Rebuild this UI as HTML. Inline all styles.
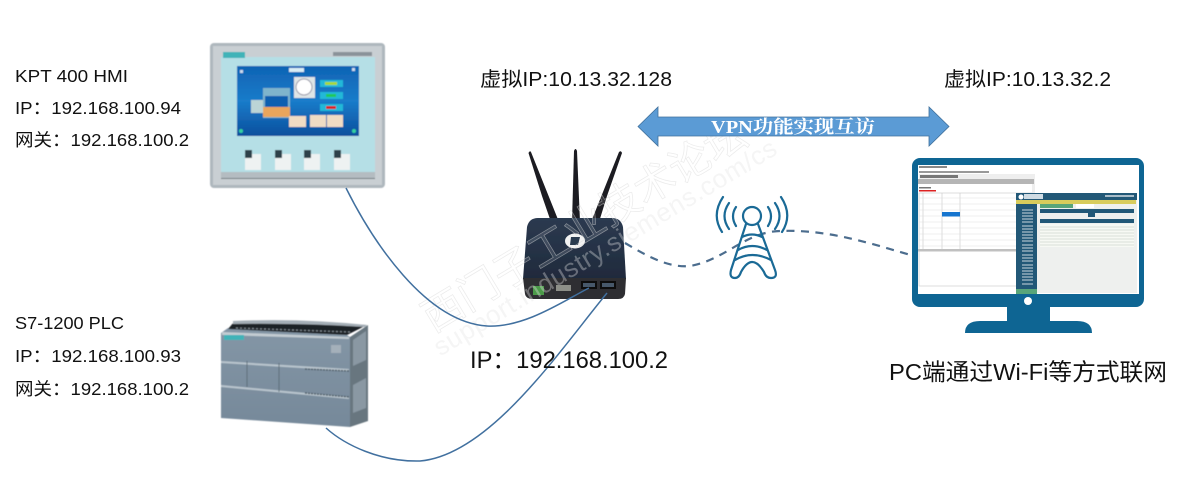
<!DOCTYPE html>
<html><head><meta charset="utf-8">
<style>
html,body{margin:0;padding:0;background:#fff;width:1188px;height:477px;overflow:hidden}
svg{display:block}
text{font-family:"Liberation Sans","Noto Sans CJK SC",sans-serif;fill:#111}
</style></head><body>
<svg width="1188" height="477" viewBox="0 0 1188 477" xmlns="http://www.w3.org/2000/svg">
<defs>
<filter id="b" x="-5%" y="-5%" width="110%" height="110%"><feGaussianBlur stdDeviation="0.6"/></filter>
<filter id="b2" x="-5%" y="-5%" width="110%" height="110%"><feGaussianBlur stdDeviation="0.35"/></filter>
<linearGradient id="sc" x1="0" y1="0" x2="0" y2="1"><stop offset="0" stop-color="#0f63b4"/><stop offset="0.5" stop-color="#1a7cca"/><stop offset="1" stop-color="#0b4f9d"/></linearGradient>
<linearGradient id="pl" x1="0" y1="0" x2="0" y2="1"><stop offset="0" stop-color="#8496a6"/><stop offset="1" stop-color="#76899a"/></linearGradient>
<linearGradient id="rt" x1="0" y1="0" x2="0" y2="1"><stop offset="0" stop-color="#2c3a50"/><stop offset="1" stop-color="#1f2a3c"/></linearGradient>
</defs>

<!-- HMI -->
<g filter="url(#b)">
<rect x="210" y="43" width="175" height="145" rx="4" fill="#aeb7bd"/>
<rect x="213" y="46" width="169" height="139" fill="#c9cfd3"/>
<rect x="221" y="57" width="154" height="115" fill="#b5dfe6"/>
<rect x="221" y="172" width="154" height="6" fill="#b4bcc1"/>
<rect x="221" y="178" width="154" height="1" fill="#6f7a80"/>
<rect x="223" y="52" width="22" height="6" fill="#3fb3b8"/>
<rect x="333" y="52" width="39" height="4" fill="#8a9299"/>
<rect x="237" y="66" width="122" height="70" fill="url(#sc)"/>
<rect x="289" y="68" width="15" height="4" fill="#d9edf5"/>
<rect x="294" y="77" width="21" height="21" fill="#dfe5e6"/>
<circle cx="304" cy="87" r="8" fill="#fff" stroke="#99a"/>
<rect x="263" y="88" width="27" height="30" fill="#7fb4cc"/>
<rect x="265" y="96" width="23" height="16" fill="#0e5fb0"/>
<rect x="263" y="107" width="27" height="10" fill="#e9a55c"/>
<rect x="251" y="100" width="12" height="13" fill="#bcd4d6"/>
<rect x="320" y="80" width="23" height="7" fill="#21b8d8"/><rect x="325" y="82" width="12" height="3" fill="#a8d838"/>
<rect x="320" y="92" width="23" height="7" fill="#21b8d8"/><rect x="326" y="94" width="10" height="3" fill="#22c858"/>
<rect x="320" y="104" width="23" height="7" fill="#21b8d8"/><rect x="326" y="106" width="10" height="3" fill="#d22"/>
<rect x="289" y="116" width="17" height="11" fill="#f0dcc4"/>
<rect x="310" y="115" width="16" height="12" fill="#f0dcc4"/>
<rect x="327" y="115" width="16" height="12" fill="#f0dcc4"/>
<circle cx="241" cy="131" r="2" fill="#35d0a0"/><circle cx="354" cy="131" r="2" fill="#35d0a0"/>
<rect x="240" y="70" width="3" height="3" fill="#cde"/><rect x="352" y="68" width="3" height="3" fill="#cde"/>
<g fill="#eef2f2">
<rect x="245" y="154" width="16" height="16"/><rect x="275" y="154" width="16" height="16"/><rect x="304" y="154" width="16" height="16"/><rect x="334" y="154" width="16" height="16"/>
</g>
<g fill="#2f3f48">
<rect x="245" y="150" width="7" height="8"/><rect x="275" y="150" width="7" height="8"/><rect x="304" y="150" width="7" height="8"/><rect x="334" y="150" width="7" height="8"/>
</g>
</g>

<!-- PLC -->
<g filter="url(#b)">
<path d="M221 333 L228 328 L347 335 L350 337 L350 427 L221 418 Z" fill="url(#pl)"/>
<path d="M350 337 L368 325 L368 421 L350 427 Z" fill="#67767f"/>
<path d="M353 340 L366 331 L366 360 L353 366 Z M353 385 L366 378 L366 408 L353 413 Z" fill="#8a98a3"/>
<path d="M228 329 L234 322 L367 325 L347 335 Z" fill="#1d2227"/>
<path d="M233 321 Q300 318 367 325 L365 327 Q300 323 233 324 Z" fill="#a4aeb6"/>
<path d="M236 328 L350 332" stroke="#8d979e" stroke-width="1" stroke-dasharray="2 2"/>
<path d="M222 332 L349 337 L349 339 L222 335 Z" fill="#c3ccd2"/>
<rect x="224" y="335" width="20" height="5" fill="#3fb3b8"/>
<path d="M221 361 L349 369 L349 371 L221 363 Z" fill="#b9c5cd"/>
<path d="M221 385 L349 397 L349 399 L221 387 Z" fill="#b9c5cd"/>
<path d="M247 361 L247 387 M279 363 L279 392" stroke="#55656f" stroke-width="0.8"/>
<path d="M305 369 L349 371 M305 393 L349 397" stroke="#4d5c66" stroke-width="1.5" stroke-dasharray="2 1"/>
<rect x="331" y="345" width="10" height="8" fill="#a4b0ba"/>
</g>

<!-- Router -->
<g filter="url(#b2)">
<path d="M528.500 153 Q530 150 531 152 L559 222 L551 222 L542 196 Z" fill="#1c1c20"/>
<path d="M574 151 Q575.500 147 577 151 L580 222 L572 222 Z" fill="#1c1c20"/>
<path d="M619 152 Q621 150 622 153 L607 196 L599 222 L591 222 Z" fill="#1c1c20"/>
<path d="M538 218 L612 218 Q621 218 623 227 L626 279 L523 279 L527 227 Q529 218 538 218 Z" fill="url(#rt)"/>
<path d="M523 278 L626 278 L625 294 Q624 299 618 299 L533 299 Q526 299 525 294 Z" fill="#2d2d30"/>
<ellipse cx="575" cy="241" rx="10" ry="7.500" fill="#f2f2f2"/>
<path d="M571 237 L580 237 L578 245 L570 245 Z" fill="#2c3a50"/>
<rect x="581" y="281" width="16" height="8" fill="#111"/><rect x="583" y="283" width="12" height="4" fill="#46596b"/>
<rect x="600" y="281" width="16" height="8" fill="#111"/><rect x="602" y="283" width="12" height="4" fill="#46596b"/>
<rect x="533" y="286" width="11" height="9" fill="#4c9a4a"/>
<rect x="556" y="285" width="15" height="6" fill="#8d8f88"/>
</g>

<!-- Watermark -->
<g transform="translate(433 333) rotate(-31)">
<text x="0" y="0" font-size="41" textLength="370" style="fill:#fff;fill-opacity:.12;stroke:#d8d8d8;stroke-opacity:.5;stroke-width:.7">西门子工业技术论坛</text>
<text x="-6" y="24" font-size="26" textLength="395" style="fill:#e4e4e4;fill-opacity:.36">support.industry.siemens.com/cs</text>
</g>

<!-- Cables -->
<g fill="none" stroke="#41709f" stroke-width="1.5">
<path d="M346 188 C372 240 425 322 487 326 C525 328 565 300 589 288"/>
<path d="M326 428 C345 445 380 462 420 461 C490 455 560 350 607 293"/>
</g>

<!-- Dashed link -->
<path d="M625 243 C650 258 670 268 690 266 C725 260 745 232 780 231 C830 229 875 245 914 256" fill="none" stroke="#4c6d8e" stroke-width="2.200" stroke-dasharray="8 6.500"/>

<!-- Tower -->
<g fill="none" stroke="#1a6a96" stroke-width="2.200" stroke-linecap="round" stroke-linejoin="round">
<circle cx="752" cy="216" r="9"/>
<path d="M746 224 L731 270 Q729 278 735 278 Q739 278 741 272 Q752 252 764 272 Q766 278 771 278 Q778 278 775 270 L758 224"/>
<path d="M742 237 Q752 232 762 237 M738 250 Q752 242 767 250 M735 260 Q752 250 771 260"/>
<path d="M736 207 Q730 216 736 226 M768 207 Q774 216 768 226"/>
<path d="M729 203 Q720 216 729 229 M775 203 Q784 216 775 229"/>
<path d="M723 197 Q711 215 722 232 M781 197 Q793 215 782 232"/>
</g>

<!-- Monitor -->
<rect x="912" y="158" width="232" height="149" rx="8" fill="#0e6593"/>
<rect x="918" y="165" width="221" height="129" fill="#fff"/>
<circle cx="1028" cy="301" r="4" fill="#fff"/>
<rect x="1007" y="307" width="43" height="15" fill="#0e6593"/>
<path d="M965 333 Q965 321 980 321 L1077 321 Q1092 321 1092 333 Z" fill="#0e6593"/>
<g filter="url(#b2)">
<rect x="919" y="174" width="116" height="27" fill="#eeeeee"/>
<rect x="919" y="166" width="28" height="2" fill="#888"/>
<rect x="919" y="171" width="70" height="2" fill="#999"/>
<rect x="920" y="175" width="38" height="3" fill="#777"/>
<rect x="918" y="179" width="116" height="5" fill="#b5b5b5"/>
<rect x="919" y="184" width="113" height="15" fill="#fff"/>
<rect x="919" y="187" width="12" height="1.500" fill="#777"/>
<rect x="919" y="190" width="17" height="1.500" fill="#d22"/>
<rect x="919" y="193" width="113" height="93" fill="#fff" stroke="#c8c8c8" stroke-width="0.6"/>
<rect x="918" y="249" width="117" height="2.500" fill="#c0c0c0"/>
<path d="M923 193 V249 M942 193 V249 M960 193 V249" stroke="#c7c7c7" stroke-width="0.6"/>
<path d="M919 198 H1016 M919 204 H1016 M919 210 H1016 M919 216 H1016 M919 222 H1016 M919 228 H1016 M919 234 H1016 M919 240 H1016 M919 246 H1016" stroke="#e0e0e0" stroke-width="0.6"/>
<rect x="942" y="212" width="18" height="4.500" fill="#1375cf"/>
<rect x="1016" y="193" width="21" height="100" fill="#245877"/>
<rect x="1016" y="193" width="121" height="7" fill="#245877"/>
<rect x="1037" y="200" width="100" height="93" fill="#eef0ee"/>
<rect x="1016" y="200" width="120" height="4" fill="#d8cc5b"/>
<rect x="1040" y="204" width="33" height="4" fill="#58a57a"/>
<rect x="1076" y="204" width="18" height="4" fill="#fff"/>
<rect x="1040" y="209" width="94" height="4" fill="#245877"/>
<rect x="1040" y="219" width="94" height="4" fill="#245877"/>
<rect x="1088" y="213" width="7" height="4" fill="#245877"/>
<rect x="1040" y="224" width="94" height="23" fill="#f7f9f4"/>
<path d="M1040 227 H1134 M1040 230 H1134 M1040 233 H1134 M1040 236 H1134 M1040 239 H1134 M1040 242 H1134 M1040 245 H1134" stroke="#cfd8cf" stroke-width="0.8"/>
<path d="M1022 210 H1033 M1022 213 H1033 M1022 216 H1033 M1022 219 H1033 M1022 222 H1033 M1022 226 H1033 M1022 229 H1033 M1022 232 H1033 M1022 235 H1033 M1022 238 H1033 M1022 241 H1033 M1022 245 H1033 M1022 248 H1033 M1022 251 H1033 M1022 255 H1033 M1022 258 H1033 M1022 261 H1033 M1022 265 H1033 M1022 268 H1033 M1022 271 H1033 M1022 274 H1033 M1022 277 H1033 M1022 280 H1033 M1022 284 H1033" stroke="#c9d6de" stroke-width="0.9"/>
<rect x="1016" y="289" width="21" height="5" fill="#58a57a"/>
<circle cx="1021" cy="197" r="2.500" fill="#fff"/>
<rect x="1024" y="194" width="19" height="5" fill="#cfdbe3"/>
<rect x="1105" y="195" width="29" height="2" fill="#a8bcc9"/>
</g>

<!-- VPN arrow -->
<path d="M638 126.500 L658 107 L658 117 L929 117 L929 107 L949 126.500 L929 146 L929 136 L658 136 L658 146 Z" fill="#5b9bd5" stroke="#41719c" stroke-width="0.8"/>
<text x="711" y="133" font-size="18" font-weight="700" style="fill:#fff;font-family:'Liberation Serif','Noto Serif CJK SC',serif" textLength="164" lengthAdjust="spacingAndGlyphs">VPN功能实现互访</text>

<!-- Labels -->
<g font-size="17.500">
<text x="15" y="82" textLength="113" lengthAdjust="spacingAndGlyphs">KPT 400 HMI</text>
<text x="15" y="114" textLength="166" lengthAdjust="spacingAndGlyphs">IP：192.168.100.94</text>
<text x="15" y="146" textLength="174" lengthAdjust="spacingAndGlyphs">网关：192.168.100.2</text>
<text x="15" y="329" textLength="109" lengthAdjust="spacingAndGlyphs">S7-1200 PLC</text>
<text x="15" y="362" textLength="166" lengthAdjust="spacingAndGlyphs">IP：192.168.100.93</text>
<text x="15" y="395" textLength="174" lengthAdjust="spacingAndGlyphs">网关：192.168.100.2</text>
</g>
<text x="480" y="86" font-size="20" textLength="192" lengthAdjust="spacingAndGlyphs">虚拟IP:10.13.32.128</text>
<text x="944" y="86" font-size="20" textLength="167" lengthAdjust="spacingAndGlyphs">虚拟IP:10.13.32.2</text>
<text x="470" y="368" font-size="24" textLength="198" lengthAdjust="spacingAndGlyphs">IP：192.168.100.2</text>
<text x="889" y="380" font-size="23.500" textLength="278" lengthAdjust="spacingAndGlyphs">PC端通过Wi-Fi等方式联网</text>
</svg>
</body></html>
